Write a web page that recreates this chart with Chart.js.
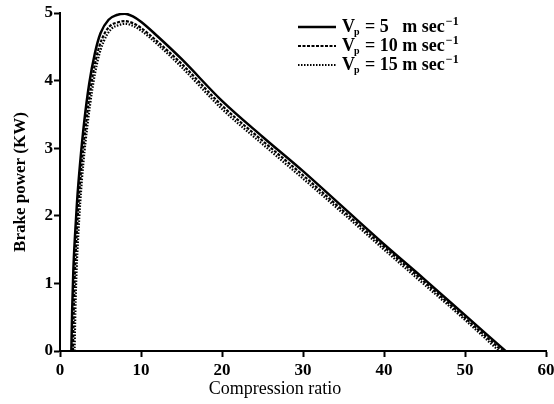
<!DOCTYPE html>
<html>
<head>
<meta charset="UTF-8">
<title>Brake power vs compression ratio</title>
<script src="https://cdn.jsdelivr.net/npm/chart.js@4.4.0/dist/chart.umd.min.js"></script>
<style>
  html,body{margin:0;padding:0;background:#fff;}
  #wrap{width:554px;height:404px;position:relative;}
</style>
</head>
<body>
<div id="wrap"><canvas id="myChart" width="554" height="404"></canvas></div>
<script>
// compression ratio (x) and brake power in KW (y)
const cr5  = [1.4, 1.5, 1.65, 1.85, 2.1, 2.5, 3.0, 3.6, 4.3, 5.0, 6.0, 7.0, 8.0, 9.0, 10, 12, 15, 20, 25, 30, 35, 40, 45, 50, 55]
const bp5  = [0, 0.6, 1.2, 1.7, 2.2, 2.8, 3.4, 3.95, 4.4, 4.7, 4.9, 4.97, 4.99, 4.95, 4.87, 4.66, 4.32, 3.7, 3.17, 2.66, 2.12, 1.58, 1.06, 0.53, 0]
const cr10 = [1.6, 1.7, 1.85, 2.05, 2.3, 2.7, 3.2, 3.8, 4.5, 5.2, 6.1, 7.1, 8.0, 9.0, 10, 12, 15, 20, 25, 30, 35, 40, 45, 50, 54.6]
const bp10 = [0, 0.6, 1.2, 1.7, 2.2, 2.8, 3.35, 3.9, 4.35, 4.62, 4.8, 4.86, 4.88, 4.85, 4.78, 4.58, 4.25, 3.63, 3.11, 2.6, 2.07, 1.54, 1.02, 0.49, 0]
const cr15 = [1.8, 1.9, 2.05, 2.25, 2.5, 2.9, 3.4, 4.0, 4.7, 5.4, 6.3, 7.2, 8.1, 9.0, 10, 12, 15, 20, 25, 30, 35, 40, 45, 50, 54.2]
const bp15 = [0, 0.6, 1.2, 1.7, 2.2, 2.8, 3.35, 3.88, 4.32, 4.58, 4.76, 4.82, 4.84, 4.81, 4.74, 4.54, 4.2, 3.58, 3.06, 2.55, 2.03, 1.5, 0.98, 0.46, 0]
const speeds = ['5  ', '10', '15']
const xTicks = [0, 10, 20, 30, 40, 50, 60]
const yTicks = [0, 1, 2, 3, 4, 5]

function pts(xs, ys){ return xs.map((x,i)=>({x:x, y:ys[i]})) }

const serif = "'Liberation Serif', 'DejaVu Serif', serif"

const styles = [
  {borderDash: [], borderWidth: 2.5},
  {borderDash: [3, 1.5], borderWidth: 2.2},
  {borderDash: [1.5, 1.5], borderWidth: 2.2}
]
const series = [pts(cr5,bp5), pts(cr10,bp10), pts(cr15,bp15)]

// legend + x title drawn by hand (subscript / superscript, off-centre title)
const extras = {
  id: 'extras',
  afterDraw(chart){
    const ctx = chart.ctx
    ctx.save()
    ctx.fillStyle = '#000'
    ctx.strokeStyle = '#000'
    const rows = [26, 45, 64]
    rows.forEach((y, i) => {
      ctx.lineWidth = styles[i].borderWidth
      ctx.setLineDash(styles[i].borderDash)
      ctx.beginPath(); ctx.moveTo(298, y + 1); ctx.lineTo(336, y + 1); ctx.stroke()
      ctx.setLineDash([])
      let x = 342
      ctx.textBaseline = 'alphabetic'
      ctx.font = 'bold 18px ' + serif
      ctx.fillText('V', x, y + 6); x += ctx.measureText('V').width - 1
      ctx.font = 'bold 10px ' + serif
      ctx.fillText('p', x, y + 9); x += ctx.measureText('p').width + 1
      ctx.font = 'bold 18px ' + serif
      const s = ' = ' + speeds[i] + ' m sec'
      ctx.fillText(s, x, y + 6); x += ctx.measureText(s).width + 1
      ctx.font = 'bold 12px ' + serif
      ctx.fillText('\u22121', x, y - 1)
    })
    ctx.font = '18px ' + serif
    ctx.textAlign = 'center'
    ctx.fillText('Compression ratio', 275, 394)
    ctx.restore()
  }
}

const ctx = document.getElementById('myChart').getContext('2d')
const myChart = new Chart(ctx, {
  type: 'scatter',
  data: {
    datasets: series.map((d, i) => ({
      label: 'Vp = ' + speeds[i].trim() + ' m sec-1',
      data: d,
      showLine: true,
      borderColor: '#000',
      backgroundColor: '#000',
      borderWidth: styles[i].borderWidth,
      borderDash: styles[i].borderDash,
      pointRadius: 0,
      cubicInterpolationMode: 'monotone'
    }))
  },
  options: {
    responsive: false,
    animation: false,
    devicePixelRatio: 1,
    layout: {padding: {top: 13, right: 8, left: 0, bottom: 0}},
    plugins: {legend: {display: false}, tooltip: {enabled: false}},
    scales: {
      x: {
        type: 'linear', min: 0, max: 60,
        afterBuildTicks: s => { s.ticks = xTicks.map(v => ({value: v})) },
        afterFit: s => { s.height = 53; s.paddingRight = 0; s.paddingLeft = 0 },
        grid: {drawOnChartArea: false, drawTicks: true, tickLength: 6, tickColor: '#000', tickWidth: 2},
        border: {display: true, color: '#000', width: 2},
        ticks: {color: '#000', font: {family: serif, size: 17, weight: 'bold'}, padding: 3, maxRotation: 0}
      },
      y: {
        min: 0, max: 5,
        afterBuildTicks: s => { s.ticks = yTicks.map(v => ({value: v})) },
        afterFit: s => { s.width = 60; s.paddingTop = 0; s.paddingBottom = 0 },
        grid: {drawOnChartArea: false, drawTicks: true, tickLength: 6, tickColor: '#000', tickWidth: 2},
        border: {display: true, color: '#000', width: 2},
        ticks: {color: '#000', font: {family: serif, size: 17, weight: 'bold'}, padding: 1},
        title: {display: true, text: 'Brake power (KW)', color: '#000', font: {family: serif, size: 17, weight: 'bold'}, padding: {top: 10, bottom: 4}}
      }
    }
  },
  plugins: [extras]
})
</script>
</body>
</html>
